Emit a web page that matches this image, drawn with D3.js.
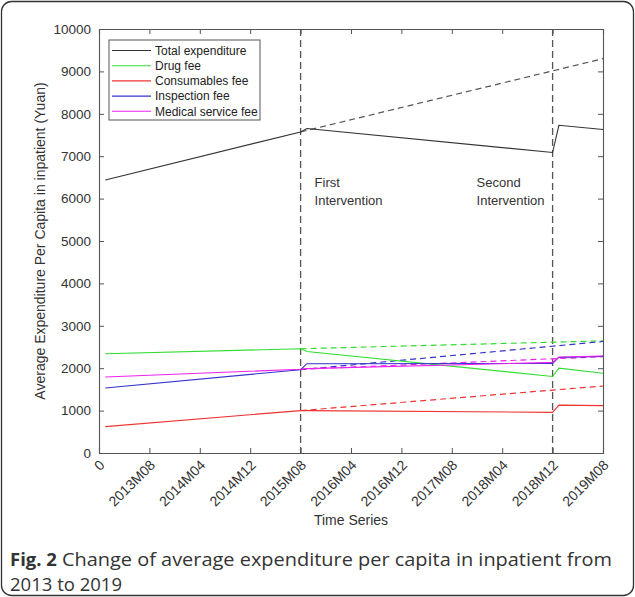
<!DOCTYPE html>
<html lang="en">
<head>
<meta charset="utf-8">
<title>Fig. 2 inpatient expenditure</title>
<script src="https://d3js.org/d3.v7.min.js"></script>
<style>
  body { margin: 0; background: #fff; }
  svg { display: block; }
  .tick text { font-family: "Liberation Sans", Arial, sans-serif; fill: #333; }
</style>
</head>
<body>
<svg class="chart"></svg>

<script>
//set up data
var tickLabels = ["0", "2013M08", "2014M04", "2014M12", "2015M08", "2016M04",
  "2016M12", "2017M08", "2018M04", "2018M12", "2019M08"];
var tickMonths = [0, 8, 16, 24, 32, 40, 48, 56, 64, 72, 80];
var interventions = [32, 72];
var interventionNames = [["First", "Intervention"], ["Second", "Intervention"]];

// fitted segments: start, before 1st, after 1st, before 2nd, after 2nd, end
var months = [1, 32, 33, 72, 73, 80];
var counterMonths = [32, 80];

var seriesNames = ["Total expenditure", "Drug fee", "Consumables fee", "Inspection fee", "Medical service fee"];
var seriesColors = ["#333333", "#33dd33", "#ee3333", "#3333cc", "#ee22ee"];

var totalValues = [6440, 7572, 7652, 7087, 7729, 7628];
var drugValues = [2341, 2459, 2395, 1805, 2000, 1882];
var consumablesValues = [623, 1000, 1000, 958, 1128, 1118];
var inspectionValues = [1533, 1965, 2106, 2110, 2254, 2278];
var medicalValues = [1793, 1975, 1990, 2137, 2264, 2286];

var totalCounter = [7572, 9300];
var drugCounter = [2459, 2645];
var consumablesCounter = [1000, 1580];
var inspectionCounter = [1965, 2630];
var medicalCounter = [1975, 2272];

var seriesValues = [totalValues, drugValues, consumablesValues, inspectionValues, medicalValues];
var counterValues = [totalCounter, drugCounter, consumablesCounter, inspectionCounter, medicalCounter];
var yTicks = [0, 1000, 2000, 3000, 4000, 5000, 6000, 7000, 8000, 9000, 10000];

//set up chart
var W = 635, H = 597;
var margin = {top: 29, right: 32, bottom: 144, left: 99};
var width = W - margin.left - margin.right;
var height = H - margin.top - margin.bottom;

var svg = d3.select(".chart")
  .attr("width", W)
  .attr("height", H);

// outer card border
svg.append("rect")
  .attr("x", 1.5).attr("y", 1.5)
  .attr("width", W - 3).attr("height", H - 3)
  .attr("rx", 10).attr("ry", 10)
  .attr("fill", "none")
  .attr("stroke", "#333")
  .attr("stroke-width", 1.3);

var chart = svg.append("g")
  .attr("transform", "translate(" + margin.left + "," + margin.top + ")");

var xChart = d3.scaleLinear().domain([0, 80]).range([0, width]);
var yChart = d3.scaleLinear().domain([0, 10000]).range([height, 0]);

var line = d3.line()
  .x(function(d){ return xChart(d[0]); })
  .y(function(d){ return yChart(d[1]); });

//axes, matlab style with inner ticks on all four sides
var axisColor = "#555";

var xAxis = d3.axisBottom(xChart)
  .tickValues(tickMonths)
  .tickSize(-5)
  .tickFormat(function(d, i){ return tickLabels[i]; });

var gx = chart.append("g")
  .attr("transform", "translate(0," + height + ")")
  .call(xAxis);
gx.selectAll("text")
  .style("font-size", "14px")
  .style("text-anchor", "end")
  .attr("dy", null)
  .attr("y", 0)
  .attr("transform", "translate(6,13) rotate(-45)");

chart.append("g")
  .call(d3.axisTop(xChart).tickValues(tickMonths).tickSize(-5).tickFormat(""));

var gy = chart.append("g")
  .call(d3.axisLeft(yChart).tickValues(yTicks).tickSize(-5).tickPadding(8).tickFormat(d3.format("d")));
gy.selectAll("text").style("font-size", "13.5px");

chart.append("g")
  .attr("transform", "translate(" + width + ",0)")
  .call(d3.axisRight(yChart).tickValues(yTicks).tickSize(-5).tickFormat(""));

chart.selectAll(".domain, .tick line")
  .attr("stroke", axisColor);
chart.selectAll(".domain").attr("stroke-width", 1.1);

//intervention lines
chart.selectAll(".intervention")
  .data(interventions)
  .enter()
  .append("line")
  .attr("class", "intervention")
  .attr("x1", function(d){ return xChart(d); })
  .attr("x2", function(d){ return xChart(d); })
  .attr("y1", 0)
  .attr("y2", height)
  .attr("stroke", "#555")
  .attr("stroke-width", 1.3)
  .attr("stroke-dasharray", "7,4");

var notes = chart.selectAll(".note")
  .data(interventions)
  .enter()
  .append("text")
  .attr("class", "note")
  .attr("x", function(d, i){ return i === 0 ? xChart(d) + 14 : xChart(d) - 76; })
  .attr("y", yChart(6270))
  .style("font-family", "Liberation Sans, Arial, sans-serif")
  .style("font-size", "13px")
  .style("fill", "#333");
notes.each(function(d, i){
  var t = d3.select(this);
  var xx = t.attr("x");
  interventionNames[i].forEach(function(s, k){
    t.append("tspan").attr("x", xx).attr("dy", k === 0 ? 0 : 18).text(s);
  });
});

//counterfactual dashed lines, drawn first
counterValues.forEach(function(vals, i){
  chart.append("path")
    .datum(counterMonths.map(function(m, k){ return [m, vals[k]]; }))
    .attr("d", line)
    .attr("fill", "none")
    .attr("stroke", i === 0 ? "#555" : seriesColors[i])
    .attr("stroke-width", 1.2)
    .attr("stroke-dasharray", "6,4");
});

//fitted lines
seriesValues.forEach(function(vals, i){
  chart.append("path")
    .datum(months.map(function(m, k){ return [m, vals[k]]; }))
    .attr("d", line)
    .attr("fill", "none")
    .attr("stroke", seriesColors[i])
    .attr("stroke-width", 1.1);
});

//legend
var legend = chart.append("g")
  .attr("transform", "translate(10,11)");
legend.append("rect")
  .attr("width", 151).attr("height", 80)
  .attr("fill", "#fff")
  .attr("stroke", "#555")
  .attr("stroke-width", 1);
var items = legend.selectAll(".item")
  .data(seriesNames)
  .enter()
  .append("g")
  .attr("class", "item")
  .attr("transform", function(d, i){ return "translate(0," + (10.5 + i * 15.2) + ")"; });
items.append("line")
  .attr("x1", 3).attr("x2", 42)
  .attr("stroke", function(d, i){ return seriesColors[i]; })
  .attr("stroke-width", 1.1);
items.append("text")
  .attr("x", 46)
  .attr("dy", "0.35em")
  .style("font-family", "Liberation Sans, Arial, sans-serif")
  .style("font-size", "12px")
  .style("fill", "#222")
  .text(function(d){ return d; });

//axis titles
chart.append("text")
  .attr("x", width / 2)
  .attr("y", height + 72)
  .style("text-anchor", "middle")
  .style("font-family", "Liberation Sans, Arial, sans-serif")
  .style("font-size", "14px")
  .style("fill", "#333")
  .text("Time Series");

chart.append("text")
  .attr("transform", "translate(-54," + (height / 2) + ") rotate(-90)")
  .style("text-anchor", "middle")
  .style("font-family", "Liberation Sans, Arial, sans-serif")
  .style("font-size", "14px")
  .style("fill", "#333")
  .text("Average Expenditure Per Capita in inpatient (Yuan)");

//caption, bold figure number then the title as separate texts
var capStyle = function(t){
  return t.style("font-family", "Open Sans, sans-serif")
    .style("font-size", "18.5px")
    .style("fill", "#333");
};
var figNo = capStyle(svg.append("text"))
  .attr("x", 10)
  .attr("y", 566)
  .style("font-weight", "bold")
  .text("Fig. 2");
var figW = figNo.node().getComputedTextLength();
var capX = 10 + figW + 5;
capStyle(svg.append("text"))
  .attr("x", capX)
  .attr("y", 566)
  .attr("textLength", 612 - capX)
  .attr("lengthAdjust", "spacingAndGlyphs")
  .text("Change of average expenditure per capita in inpatient from");
capStyle(svg.append("text"))
  .attr("x", 10)
  .attr("y", 591.3)
  .attr("textLength", 112)
  .attr("lengthAdjust", "spacingAndGlyphs")
  .text("2013 to 2019");
</script>
</body>
</html>
